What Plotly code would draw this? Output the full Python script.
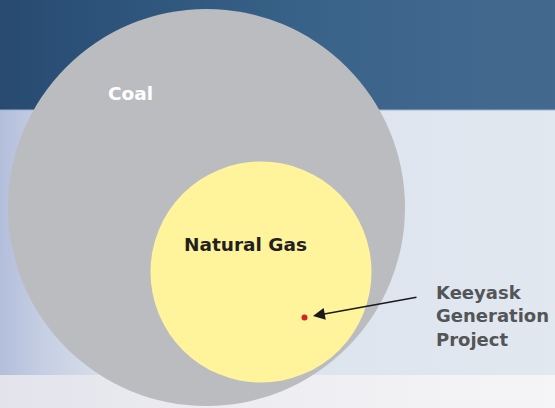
import numpy as np
import plotly.graph_objects as go

# ---- data ----
categories = ["Coal", "Natural Gas", "Keeyask Generation Project"]
values = [100.0, 31.0, 0.023]          # relative size (area) of each circle
label_text = ["Coal", "Natural Gas", "Keeyask<br>Generation<br>Project"]

# ---- layout / styling ----
W, H = 555, 408
scale = 19.85                           # px radius per sqrt(value)
centers = [(206.5, 207.5), (261.0, 272.0), (304.5, 317.5)]
fills = ["#bbbcc0", "#fff39b", "#d8201f"]

fig = go.Figure()

# background bands (decorative)
bands = [
    (0, 110, [[0, "#284a71"], [0.3, "#30587f"], [0.6, "#3b648b"], [1, "#44698f"]]),
    (110, 375, [[0, "#b3bedb"], [0.08, "#c6cfe3"], [0.2, "#d9e1ec"], [1, "#e1e8f0"]]),
    (375, 408, [[0, "#e3e3ec"], [0.5, "#eeeef2"], [1, "#f5f5f7"]]),
]
for y0, y1, cs in bands:
    fig.add_trace(go.Scatter(
        x=[0, W, W, 0, 0], y=[y0, y0, y1, y1, y0], mode="lines",
        fill="toself", line=dict(width=0),
        fillgradient=dict(type="horizontal", colorscale=cs),
        hoverinfo="skip", showlegend=False))
fig.add_shape(type="line", x0=0, x1=W, y0=110, y1=110, xref="x", yref="y",
              line=dict(color="#9fb3c8", width=1))

# circles sized from values
for (cx, cy), v, col in zip(centers, values, fills):
    r = scale * np.sqrt(v)
    fig.add_shape(type="circle", xref="x", yref="y",
                  x0=cx - r, x1=cx + r, y0=cy - r, y1=cy + r,
                  fillcolor=col, line=dict(width=0), layer="above")

font_fam = "DejaVu Sans"
fig.add_annotation(x=106, y=93, text=label_text[0], showarrow=False,
                   xanchor="left", yanchor="middle",
                   font=dict(family=font_fam, size=18.5, color="white", weight="bold"))
fig.add_annotation(x=182, y=244, text=label_text[1], showarrow=False,
                   xanchor="left", yanchor="middle",
                   font=dict(family=font_fam, size=18.5, color="#231f20", weight="bold"))
fig.add_annotation(x=434, y=316, text=label_text[2], showarrow=False,
                   xanchor="left", yanchor="middle", align="left",
                   font=dict(family=font_fam, size=18, color="#545557", weight="bold"))

# arrow pointing to Keeyask
kx, ky = centers[2]
fig.add_annotation(x=kx + 8.5, y=ky - 1.5, ax=418, ay=297, xref="x", yref="y",
                   axref="x", ayref="y", text="", showarrow=True,
                   arrowhead=2, arrowsize=1.7, arrowwidth=1.4, arrowcolor="#1a1a1a")

fig.update_xaxes(range=[0, W], visible=False, fixedrange=True)
fig.update_yaxes(range=[H, 0], visible=False, fixedrange=True)
fig.update_layout(width=W, height=H, margin=dict(l=0, r=0, t=0, b=0),
                  paper_bgcolor="#e0e8f0", plot_bgcolor="#e0e8f0",
                  showlegend=False)

fig.write_html("out.html", config={"displayModeBar": False},
               post_script="document.body.style.margin='0px';document.body.style.overflow='hidden';")
